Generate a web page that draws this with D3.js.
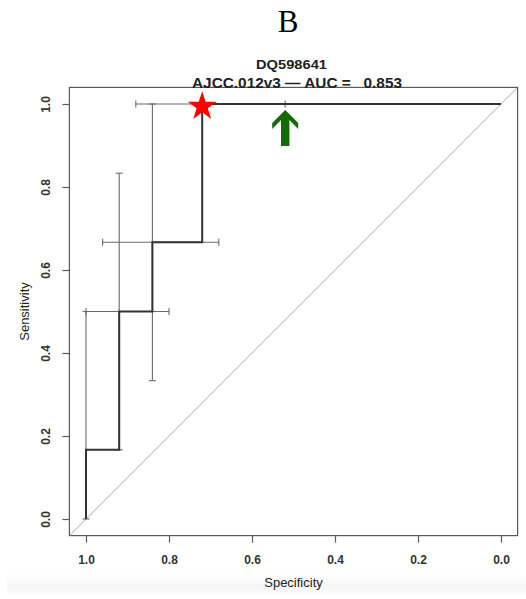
<!DOCTYPE html>
<html>
<head>
<meta charset="utf-8">
<script src="https://cdn.jsdelivr.net/npm/d3@7"></script>
<style>
  html, body { margin: 0; padding: 0; background: #fff; }
  svg { display: block; }
</style>
</head>
<body>
<svg id="chart" width="526" height="599"></svg>
<script>
// ---- data ----
const panelLabel = "B";
const titleLine1 = "DQ598641";
const titleLine2 = "AJCC.012v3 \u2014 AUC =   0.853";
const xLabel = "Specificity";
const yLabel = "Sensitivity";
const xTicks = [1.0, 0.8, 0.6, 0.4, 0.2, 0.0];
const yTicks = [0.0, 0.2, 0.4, 0.6, 0.8, 1.0];

// ROC curve points (specificity, sensitivity)
const rocSpec = [1.0, 1.0, 0.92, 0.84, 0.72, 0.0];
const rocSens = [0.0, 0.1667, 0.5, 0.6667, 1.0, 1.0];

// sensitivity CI at given specificities (vertical bars)
const seCiSpec = [1.0, 0.92, 0.84];
const seCiLow  = [0.0, 0.1667, 0.3333];
const seCiHigh = [0.5, 0.8333, 1.0];

// specificity CI at given sensitivities (horizontal bars)
const spCiSens = [0.5, 0.6667, 1.0];
const spCiLow  = [0.80, 0.68, 0.52];
const spCiHigh = [1.0, 0.96, 0.88];

// best threshold (star) and arrow marker
const bestPoint = { spec: 0.72, sens: 1.0 };
const arrowPoint = { spec: 0.52, sens: 1.0 };

// ---- drawing ----
const SANS = "'Liberation Sans', Arial, Helvetica, sans-serif";
const SERIF = "'Liberation Serif', 'Times New Roman', serif";
const svg = d3.select("#chart");

// subtle bottom band like the reference
const defs = svg.append("defs");
const grad = defs.append("linearGradient").attr("id", "band").attr("x1", 0).attr("y1", 0).attr("x2", 0).attr("y2", 1);
grad.append("stop").attr("offset", "0%").attr("stop-color", "#ffffff");
grad.append("stop").attr("offset", "60%").attr("stop-color", "#f6f6f6");
grad.append("stop").attr("offset", "100%").attr("stop-color", "#fbfbfb");
svg.append("rect").attr("x", 7).attr("y", 574).attr("width", 519).attr("height", 20).attr("fill", "url(#band)");

const x = d3.scaleLinear().domain([1, 0]).range([86, 501]);
const y = d3.scaleLinear().domain([0, 1]).range([519, 104]);

const bx0 = x(1.04), bx1 = x(-0.04), by0 = y(1.04), by1 = y(-0.04);

defs.append("clipPath").attr("id", "plotclip")
  .append("rect").attr("x", bx0).attr("y", by0).attr("width", bx1 - bx0).attr("height", by1 - by0);

// diagonal
svg.append("line")
  .attr("clip-path", "url(#plotclip)")
  .attr("x1", x(1.04)).attr("y1", y(-0.04))
  .attr("x2", x(-0.04)).attr("y2", y(1.04))
  .attr("stroke", "#c8c8c8").attr("stroke-width", 1.2);

// box
svg.append("rect")
  .attr("x", bx0).attr("y", by0).attr("width", bx1 - bx0).attr("height", by1 - by0)
  .attr("fill", "none").attr("stroke", "#5a5a5a").attr("stroke-width", 1.2);

// axes
const xAxis = d3.axisBottom(x).tickValues(xTicks).tickFormat(d3.format(".1f")).tickSizeOuter(0).tickSizeInner(7).tickPadding(13);
const gx = svg.append("g").attr("transform", `translate(0,${by1})`).call(xAxis);
gx.select(".domain").remove();
gx.selectAll(".tick line").attr("stroke", "#5a5a5a").attr("stroke-width", 1.2);
gx.selectAll(".tick text").attr("font-size", 12).attr("fill", "#333").attr("font-weight", "bold")
  .attr("font-family", SANS);

const yAxis = d3.axisLeft(y).tickValues(yTicks).tickFormat(d3.format(".1f")).tickSizeOuter(0).tickSizeInner(7).tickPadding(0);
const gy = svg.append("g").attr("transform", `translate(${bx0},0)`).call(yAxis);
gy.select(".domain").remove();
gy.selectAll(".tick line").attr("stroke", "#5a5a5a").attr("stroke-width", 1.2);
gy.selectAll(".tick text")
  .attr("font-size", 12).attr("fill", "#333").attr("font-weight", "bold")
  .attr("font-family", SANS)
  .attr("x", 0).attr("dy", 0)
  .attr("text-anchor", "middle")
  .attr("transform", "translate(-19,0) rotate(-90)");

// CI bars
const ciColor = "#6a6a6a", cap = 3.5;
const ciG = svg.append("g").attr("stroke", ciColor).attr("stroke-width", 1.1).attr("fill", "none");
seCiSpec.forEach((s, i) => {
  const xx = x(s);
  ciG.append("line").attr("x1", xx).attr("x2", xx).attr("y1", y(seCiLow[i])).attr("y2", y(seCiHigh[i]));
  ciG.append("line").attr("x1", xx - cap).attr("x2", xx + cap).attr("y1", y(seCiLow[i])).attr("y2", y(seCiLow[i]));
  ciG.append("line").attr("x1", xx - cap).attr("x2", xx + cap).attr("y1", y(seCiHigh[i])).attr("y2", y(seCiHigh[i]));
});
spCiSens.forEach((s, i) => {
  const yy = y(s);
  ciG.append("line").attr("y1", yy).attr("y2", yy).attr("x1", x(spCiLow[i])).attr("x2", x(spCiHigh[i]));
  ciG.append("line").attr("y1", yy - cap).attr("y2", yy + cap).attr("x1", x(spCiLow[i])).attr("x2", x(spCiLow[i]));
  ciG.append("line").attr("y1", yy - cap).attr("y2", yy + cap).attr("x1", x(spCiHigh[i])).attr("x2", x(spCiHigh[i]));
});

// ROC curve
const rocData = rocSpec.map((s, i) => [s, rocSens[i]]);
svg.append("path")
  .datum(rocData)
  .attr("d", d3.line().x(d => x(d[0])).y(d => y(d[1])).curve(d3.curveStepAfter))
  .attr("fill", "none").attr("stroke", "#333").attr("stroke-width", 2);

// star
const sx = x(bestPoint.spec), sy = y(bestPoint.sens) + 2.5;
const R = 15.3, r = R * 0.382;
const starPts = d3.range(10).map(k => {
  const ang = -Math.PI / 2 + k * Math.PI / 5;
  const rr = k % 2 === 0 ? R : r;
  return [sx + rr * Math.cos(ang), sy + rr * Math.sin(ang)];
});
svg.append("polygon").attr("points", starPts.map(p => p.join(",")).join(" ")).attr("fill", "#ff0000");

// arrow
const ax = x(arrowPoint.spec), ay = y(arrowPoint.sens) + 6;
const arrowPts = [
  [0, 0], [13, 13], [13, 19], [4.2, 10], [4.2, 36], [-4.2, 36], [-4.2, 10], [-13, 19], [-13, 13]
].map(p => [ax + p[0], ay + p[1]]);
svg.append("polygon").attr("points", arrowPts.map(p => p.join(",")).join(" ")).attr("fill", "#126b06");

// texts
svg.append("text").attr("x", 288).attr("y", 32).attr("text-anchor", "middle")
  .attr("font-family", SERIF).attr("font-size", 31).attr("fill", "#000")
  .text(panelLabel);

svg.append("text").attr("x", 291.5).attr("y", 69).attr("text-anchor", "middle")
  .attr("font-family", SANS).attr("font-size", 13.5).attr("font-weight", "bold").attr("fill", "#222")
  .attr("textLength", 71).attr("lengthAdjust", "spacingAndGlyphs")
  .text(titleLine1);
svg.append("text").attr("x", 297).attr("y", 87.5).attr("text-anchor", "middle")
  .attr("font-family", SANS).attr("font-size", 14).attr("font-weight", "bold").attr("fill", "#222")
  .attr("textLength", 210).attr("lengthAdjust", "spacingAndGlyphs")
  .attr("xml:space", "preserve").style("white-space", "pre").text(titleLine2);

svg.append("text").attr("x", (x(1) + x(0)) / 2).attr("y", 587).attr("text-anchor", "middle")
  .attr("font-family", SANS).attr("font-size", 13).attr("fill", "#222").text(xLabel);
svg.append("text").attr("transform", `translate(29,${(y(0) + y(1)) / 2}) rotate(-90)`).attr("text-anchor", "middle")
  .attr("font-family", SANS).attr("font-size", 13).attr("fill", "#222").text(yLabel);
</script>
</body>
</html>
